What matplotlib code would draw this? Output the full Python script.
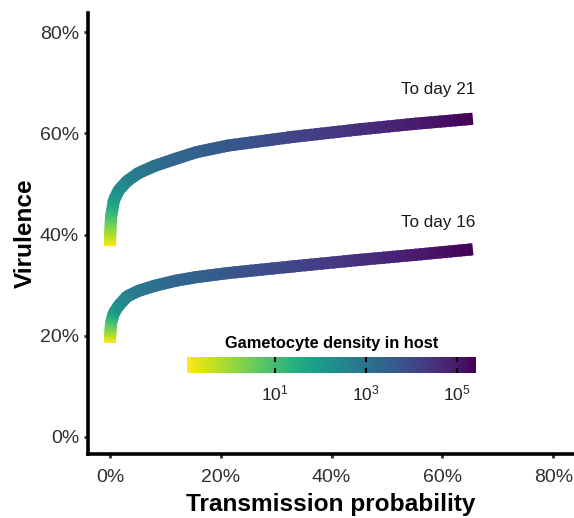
import numpy as np
import matplotlib
matplotlib.use("Agg")
import matplotlib.pyplot as plt
from matplotlib.collections import LineCollection
from matplotlib.colors import Normalize

plt.rcParams['font.family'] = ['Liberation Sans', 'DejaVu Sans']
plt.rcParams['mathtext.fontset'] = 'custom'
plt.rcParams['mathtext.rm'] = 'Liberation Sans'
plt.rcParams['mathtext.it'] = 'Liberation Sans:italic'
plt.rcParams['mathtext.bf'] = 'Liberation Sans:bold'

# ---- data ----
log_density = [-0.93, 0.0, 0.97, 1.93, 2.3, 2.6, 2.85, 3.1, 3.35, 3.5, 3.7, 4.1, 4.55, 4.95, 5.42]
transmission = [0, 0.05, 0.2, 0.7, 1.6, 3.1, 5.2, 8.1, 11.9, 15.6, 21.3, 32.9, 45, 55, 65.5]
virulence_day21 = [37.7, 40.5, 43.5, 46.8, 48.8, 50.6, 52.2, 53.6, 55.0, 56.3, 57.6, 59.3, 60.8, 61.9, 62.9]
virulence_day16 = [18.6, 20.5, 22.6, 24.5, 26.0, 27.8, 28.9, 29.9, 30.9, 31.6, 32.4, 33.7, 35.0, 36.0, 37.1]
curve_labels = ["To day 21", "To day 16"]
axis_ticks = [0, 20, 40, 60, 80]
cbar_ticks = [1, 3, 5]

cmap = plt.get_cmap('viridis_r')
norm = Normalize(min(log_density), max(log_density))

fig = plt.figure(figsize=(5.74, 5.18), dpi=100)
ax = fig.add_axes([87.5/574, (518-454)/518, (574-87.5)/574, (454-12.7)/518])
ax.set_xlim(-4.06, 83.75)
ax.set_ylim(-3.36, 83.86)

LW = 8.7
SUB = 12

def gradient_line(x, y, c):
    x = np.asarray(x, float); y = np.asarray(y, float); c = np.asarray(c, float)
    segs, cols = [], []
    n = len(x) - 1
    for i in range(n):
        for k in range(SUB):
            a = k / SUB
            b = (k + 1) / SUB
            if not (i == n - 1 and k == SUB - 1):
                b = min(b + 0.6 / SUB, 1.0 if i == n - 1 else b + 0.6 / SUB)
            p0 = (x[i] + a*(x[i+1]-x[i]), y[i] + a*(y[i+1]-y[i]))
            p1 = (x[i] + b*(x[i+1]-x[i]), y[i] + b*(y[i+1]-y[i]))
            segs.append([p0, p1])
            cols.append(cmap(norm(c[i] + (a + (k + 1) / SUB)/2*(c[i+1]-c[i]))))
    lc = LineCollection(segs, colors=cols, linewidths=LW, capstyle='butt', zorder=3)
    ax.add_collection(lc)
    # fill wedge gaps at the interior joints
    ax.scatter(x[1:-1], y[1:-1], s=(LW*0.98)**2, c=cmap(norm(c[1:-1])),
               marker='o', linewidths=0, zorder=2.9)

gradient_line(transmission, virulence_day21, log_density)
gradient_line(transmission, virulence_day16, log_density)

ax.text(59.3, 68.7, curve_labels[0], ha='center', va='center', fontsize=12.3, color='#1a1a1a')
ax.text(59.3, 42.3, curve_labels[1], ha='center', va='center', fontsize=12.3, color='#1a1a1a')

for s in ['top', 'right']:
    ax.spines[s].set_visible(False)
for s in ['left', 'bottom']:
    ax.spines[s].set_linewidth(2.6)
    ax.spines[s].set_color('black')
ax.set_xticks(axis_ticks)
ax.set_yticks(axis_ticks)
ax.set_xticklabels([f"{t}%" for t in axis_ticks])
ax.set_yticklabels([f"{t}%" for t in axis_ticks])
ax.tick_params(length=3, width=2, color='#333333', labelsize=14, labelcolor='#303030')
ax.tick_params(axis='y', pad=3)
ax.tick_params(axis='x', pad=7.5)
ax.set_xlabel("Transmission probability", fontsize=17.6, fontweight='bold', labelpad=5)
ax.set_ylabel("Virulence", fontsize=17.6, fontweight='bold', labelpad=2)

# colorbar
cax = fig.add_axes([187/574, (518-373.3)/518, 289/574, 16.6/518])
grad = np.linspace(min(log_density), max(log_density), 256).reshape(1, -1)
cax.imshow(grad, aspect='auto', cmap=cmap, norm=norm,
           extent=[min(log_density), max(log_density), 0, 1])
cax.set_xlim(min(log_density), max(log_density))
cax.set_yticks([])
cax.set_xticks(cbar_ticks)
cax.set_xticklabels([f"$\\mathregular{{10^{{{t}}}}}$" for t in cbar_ticks])
for s in cax.spines.values():
    s.set_visible(False)
cax.tick_params(axis='x', direction='in', length=3.5, width=1.5, color='black',
                top=True, bottom=True, labelsize=12.5, labelcolor='#222222', pad=7)
cax.set_title("Gametocyte density in host", fontsize=11.8, fontweight='bold', pad=6)

fig.savefig("out.png", dpi=100)
